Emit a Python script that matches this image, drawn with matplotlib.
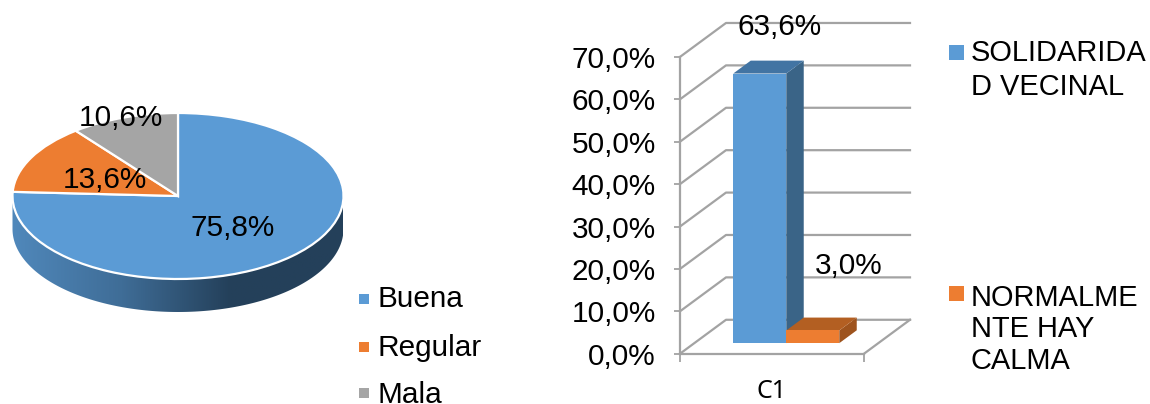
import numpy as np
from matplotlib import pyplot as plt
from matplotlib.colors import LinearSegmentedColormap
from matplotlib.patches import Polygon, Rectangle

plt.rcParams['font.family'] = ['Liberation Sans', 'DejaVu Sans']

W, H = 1150, 404

# pie data
pie_labels = ['Buena', 'Regular', 'Mala']
pie_values = [75.8, 13.6, 10.6]
pie_texts = ['75,8%', '13,6%', '10,6%']
pie_colors = ['#5b9bd5', '#ed7d31', '#a5a5a5']

# bar data
bar_category = ['C1']
bar_names = ['SOLIDARIDA\nD VECINAL', 'NORMALME\nNTE HAY\nCALMA']
bar_values = [63.6, 3.0]
bar_texts = ['63,6%', '3,0%']
bar_front = ['#5b9bd5', '#ed7d31']
bar_top = ['#4274a3', '#b35f22']
bar_side = ['#3a6487', '#9e531d']
y_ticks = [0, 10, 20, 30, 40, 50, 60, 70]
y_labels = ['0,0%', '10,0%', '20,0%', '30,0%', '40,0%', '50,0%', '60,0%', '70,0%']

GREY = '#a3a3a3'
FS = 21.4
FS_LEGEND = 20.9


def px_axes(x0, top, x1, bottom):
    return fig.add_axes([x0 / W, 1 - bottom / H, (x1 - x0) / W, (bottom - top) / H])


fig = plt.figure(figsize=(W / 100, H / 100), dpi=100)

# pie, drawn squashed so it looks tilted
cx, cy, rx, ry, thick = 178, 196, 165.5, 83, 33
pie_ax = px_axes(0, 100, 352, 325)
pie_ax.pie(pie_values, colors=pie_colors, startangle=90, counterclock=False,
           wedgeprops={'edgecolor': 'white', 'linewidth': 1.6})
pie_ax.set_aspect('auto')
pie_ax.axis('off')

# side of the pie with the dark gradient
t = np.linspace(np.pi, 2 * np.pi, 200)
drop = thick / ry
lower = np.column_stack([np.cos(t), np.sin(t) - drop])
upper = np.column_stack([np.cos(t[::-1]), np.sin(t[::-1])])
side = Polygon(np.vstack([lower, upper]), transform=pie_ax.transData, fc='none', ec='none')
pie_ax.add_patch(side)
side_cmap = LinearSegmentedColormap.from_list(
    'side', [(0, '#5088bb'), (0.33, '#3f6d97'), (0.66, '#24405a'), (1, '#24405a')])
img = pie_ax.imshow(np.linspace(0, 1, 256).reshape(1, -1), cmap=side_cmap, aspect='auto',
                    extent=(-1, 1, -1 - drop, 0), zorder=0)
img.set_clip_path(side)
pie_ax.set_xlim((0 - cx) / rx, (352 - cx) / rx)
pie_ax.set_ylim((cy - 325) / ry, (cy - 100) / ry)

# bar chart, x runs 0-1 along the front of the floor, y is percent
bar_ax = px_axes(680, 56.9, 864, 353.7)
bar_ax.set_xlim(0, 1)
bar_ax.set_ylim(0, 70)
bar_ax.patch.set_alpha(0)
depth_x = 46 / 184
depth_y = 8.0


def project(x, y, d):
    return x + d * depth_x, y + d * depth_y


# walls and floor
for v in y_ticks:
    x0, y0 = project(0, v, 0)
    x1, y1 = project(0, v, 1)
    x2, y2 = project(1, v, 1)
    bar_ax.plot([x0, x1, x2], [y0, y1, y2], color=GREY, lw=1.6, clip_on=False, zorder=1)
x1, y1 = project(1, 0, 0)
x2, y2 = project(1, 0, 1)
bar_ax.plot([x1, x2], [y1, y2], color=GREY, lw=1.6, clip_on=False, zorder=1)

# bars sit in the middle of the floor depth, later bars in front of earlier ones
bar_w = 53 / 184
bar_start = 39 / 184
d0, d1 = 0.31, 0.69
for i, v in enumerate(bar_values):
    left = bar_start + i * bar_w
    right = left + bar_w
    fx, fy = project(left, 0, d0)
    corners_side = [project(right, 0, d0), project(right, 0, d1),
                    project(right, v, d1), project(right, v, d0)]
    corners_top = [project(left, v, d0), project(right, v, d0),
                   project(right, v, d1), project(left, v, d1)]
    bar_ax.add_patch(Polygon(corners_side, fc=bar_side[i], ec='none', clip_on=False, zorder=3 + i))
    bar_ax.add_patch(Polygon(corners_top, fc=bar_top[i], ec='none', clip_on=False, zorder=3 + i))
    bar_ax.bar(fx, v, bar_w, bottom=fy, align='edge', color=bar_front[i],
               clip_on=False, zorder=3 + i)

for s in ['top', 'right']:
    bar_ax.spines[s].set_visible(False)
for s in ['left', 'bottom']:
    bar_ax.spines[s].set_color(GREY)
    bar_ax.spines[s].set_linewidth(1.6)
bar_ax.set_yticks(y_ticks)
bar_ax.set_yticklabels(y_labels, fontsize=FS)
bar_ax.tick_params(axis='y', length=4.5, width=1.3, color=GREY, pad=13)
bar_ax.set_xticks([0.5])
bar_ax.set_xticklabels(bar_category, fontsize=18, family=['Noto Sans', 'DejaVu Sans'])
bar_ax.tick_params(axis='x', length=0, pad=18)
bar_ax.set_xticks([0, 1], minor=True)
bar_ax.tick_params(axis='x', which='minor', length=6, width=1.3, color=GREY)

# labels and legend keys placed in pixels on a see-through layer
top_ax = fig.add_axes([0, 0, 1, 1])
top_ax.set_xlim(0, W)
top_ax.set_ylim(H, 0)
top_ax.axis('off')

pie_text_pos = [(191, 236), (63, 188), (79, 126)]
for s, (x, y) in zip(pie_texts, pie_text_pos):
    top_ax.text(x, y, s, fontsize=FS, ha='left', va='baseline', color='black')

bar_text_pos = [(737.5, 35), (814.5, 273.5)]
for s, (x, y) in zip(bar_texts, bar_text_pos):
    top_ax.text(x, y, s, fontsize=FS, ha='left', va='baseline', color='black')

pie_leg_base = [307.3, 355.5, 403]
pie_key_top = [294, 342, 388]
for name, col, y, k in zip(pie_labels, pie_colors, pie_leg_base, pie_key_top):
    top_ax.add_patch(Rectangle((359.3, k), 9.5, 9.5, fc=col, ec='none'))
    top_ax.text(378, y, name, fontsize=FS, ha='left', va='baseline', color='black')

# multi line text anchors on its last baseline
bar_leg_base = [95, 369.3]
bar_key_top = [45, 286]
bar_leg_spacing = [1.26, 1.177]
for name, col, y, k, ls in zip(bar_names, bar_front, bar_leg_base, bar_key_top, bar_leg_spacing):
    top_ax.add_patch(Rectangle((949, k), 15, 15, fc=col, ec='none'))
    top_ax.text(971, y, name, fontsize=FS_LEGEND, ha='left', va='baseline', color='black', linespacing=ls)

fig.savefig('out.png', dpi=100)
